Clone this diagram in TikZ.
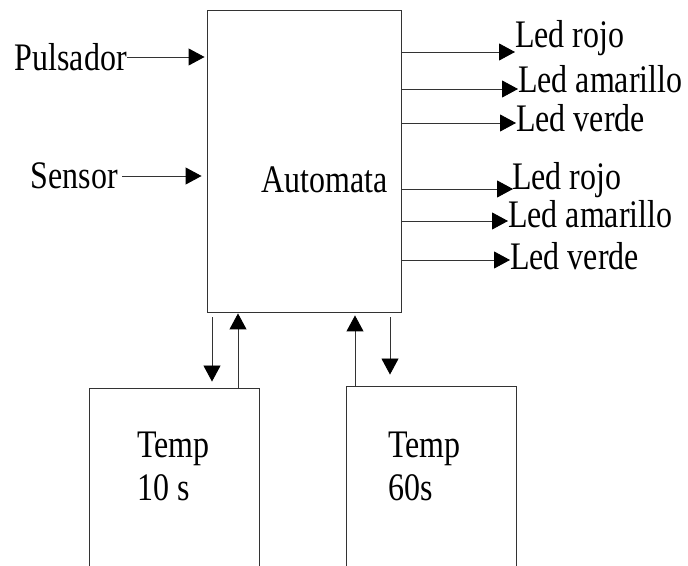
\documentclass[tikz,border=0pt]{standalone}
\usepackage{fontspec}
\setmainfont{Liberation Serif}[FakeStretch=0.82]
\usetikzlibrary{arrows.meta}

\tikzset{
  block/.style={draw=black!80,line width=0.9pt,rectangle,inner sep=0pt},
  lbl/.style={inner sep=0pt,font=\fontsize{39}{43}\selectfont},
  arr/.style={draw=black!80,line width=0.9pt,-{Triangle[length=16pt,width=17pt,black]}}
}

\begin{document}
\begin{tikzpicture}[x=1pt,y=1pt]
\useasboundingbox (0,0) rectangle (688,565);
% blocks:
\node[block,minimum width=194pt,minimum height=302pt] (automata) at (304,404) {};
\node[lbl,anchor=base west] (automatatxt) at (261,372) {Automata};
\node[block,minimum width=170pt,minimum height=200pt] (temp10) at (174,77) {};
\node[block,minimum width=170pt,minimum height=200pt] (temp60) at (431,79) {};
\node[lbl,anchor=north west,align=left] (temp10txt) at (137,133.5) {Temp\\10 s};
\node[lbl,anchor=north west,align=left] (temp60txt) at (388,133.5) {Temp\\60s};
% inputs:
\node[lbl,anchor=east] (pulsador) at (127,508) {Pulsador};
\node[lbl,anchor=east] (sensor) at (118,389) {Sensor};
\draw[arr,shorten >=2pt] (pulsador.east) -- (automata.west |- pulsador.east);
\draw[arr,shorten <=4pt,shorten >=5pt] (sensor.east) -- (automata.west |- sensor.east);
% outputs:
\coordinate (o1) at (515,513);
\coordinate (o2) at (518,476);
\coordinate (o3) at (516,442);
\coordinate (o4) at (513,376);
\coordinate (o5) at (508,344);
\coordinate (o6) at (510,305);
\draw[arr] (automata.east |- o1) -- (o1);
\draw[arr] (automata.east |- o2) -- (o2);
\draw[arr] (automata.east |- o3) -- (o3);
\draw[arr] (automata.east |- o4) -- (o4);
\draw[arr] (automata.east |- o5) -- (o5);
\draw[arr] (automata.east |- o6) -- (o6);
\node[lbl,anchor=base west] (rojo1) at (515,517) {Led rojo};
\node[lbl,anchor=base west] (amarillo1) at (518,472) {Led amarillo};
\node[lbl,anchor=base west] (verde1) at (516,433) {Led verde};
\node[lbl,anchor=base west] (rojo2) at (512,375) {Led rojo};
\node[lbl,anchor=base west] (amarillo2) at (508,337) {Led amarillo};
\node[lbl,anchor=base west] (verde2) at (510,295) {Led verde};
% timers:
\coordinate (d1) at (212,0);
\coordinate (u1) at (238,0);
\coordinate (u2) at (355,0);
\coordinate (d2) at (390,0);
\draw[arr,shorten <=5pt,shorten >=6pt] (automata.south -| d1) -- (temp10.north -| d1);
\draw[arr,shorten >=1pt] (temp10.north -| u1) -- (automata.south -| u1);
\draw[arr,shorten >=3pt] (temp60.north -| u2) -- (automata.south -| u2);
\draw[arr,shorten <=5pt,shorten >=11pt] (automata.south -| d2) -- (temp60.north -| d2);
\end{tikzpicture}
\end{document}
